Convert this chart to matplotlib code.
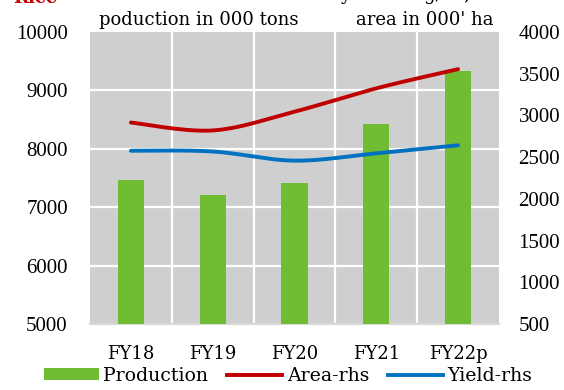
import numpy as np
import matplotlib
matplotlib.use("Agg")
import matplotlib.pyplot as plt
from matplotlib.lines import Line2D
from matplotlib.patches import Patch

plt.rcParams['font.family'] = ['DejaVu Serif']

years = ["FY18", "FY19", "FY20", "FY21", "FY22p"]
production = [7460, 7210, 7420, 8425, 9335]   # 000 tons (left axis)
area = [2915, 2820, 3045, 3325, 3555]          # 000' ha (right axis)
yld = [2577, 2568, 2458, 2546, 2642]           # kg/ha (right axis)

GREEN = "#70BC33"
RED = "#C00000"
BLUE = "#0070C0"
BG = "#D0CFD0"
FS = 13
NUM_FONT = dict(family='Liberation Serif', size=15)


def smooth(xs, ys, n=40, t=1 / 6):
    """Bezier smoothing through every point, as spreadsheet 'smoothed lines'."""
    xs = np.asarray(xs, float)
    ys = np.asarray(ys, float)
    px, py = [], []
    for i in range(len(xs) - 1):
        i0, i3 = max(i - 1, 0), min(i + 2, len(xs) - 1)
        p0 = np.array([xs[i], ys[i]])
        p3 = np.array([xs[i + 1], ys[i + 1]])
        c1 = p0 + t * (p3 - np.array([xs[i0], ys[i0]]))
        c2 = p3 - t * (np.array([xs[i3], ys[i3]]) - p0)
        s = np.linspace(0, 1, n)[:, None]
        seg = ((1 - s) ** 3) * p0 + 3 * ((1 - s) ** 2) * s * c1 + 3 * (1 - s) * s ** 2 * c2 + s ** 3 * p3
        px.extend(seg[:, 0])
        py.extend(seg[:, 1])
    return np.array(px), np.array(py)


fig = plt.figure(figsize=(5.64, 3.9), dpi=100)
ax = fig.add_axes([90 / 564, 66 / 390, 409 / 564, 292 / 390])
ax.set_facecolor(BG)
x = np.arange(len(years))

ax.bar(x, production, width=0.32, color=GREEN, zorder=3)
ax.set_ylim(5000, 10000)
ax.set_yticks(np.arange(5000, 10001, 1000))
ax.set_xlim(-0.5, len(years) - 0.5)
ax.set_xticks(x)
ax.set_xticklabels(years, fontsize=FS)

# gridlines: horizontal at every major tick, vertical between categories
for v in np.arange(6000, 10000, 1000):
    ax.axhline(v, color="white", lw=1.6, zorder=1)
for b in np.arange(0.5, len(years) - 1, 1):
    ax.axvline(b, color="white", lw=1.6, zorder=1)

for s in ax.spines.values():
    s.set_visible(False)
ax.spines['bottom'].set_visible(True)
ax.spines['bottom'].set_color("#D9D9D9")
ax.spines['bottom'].set_linewidth(1.5)
ax.tick_params(axis='both', length=0)
ax.tick_params(axis='x', pad=15)
ax.tick_params(axis='y', pad=16)
for lab in ax.get_yticklabels():
    lab.set_fontproperties(NUM_FONT)

ax2 = ax.twinx()
ax2.set_ylim(500, 4000)
ax2.set_yticks(np.arange(500, 4001, 500))
for s in ax2.spines.values():
    s.set_visible(False)
ax2.tick_params(axis='y', length=0, pad=14)
for lab in ax2.get_yticklabels():
    lab.set_fontproperties(NUM_FONT)

sx, sy = smooth(x, area)
ax2.plot(sx, sy, color=RED, lw=2.8, solid_capstyle='round', zorder=4)
sx, sy = smooth(x, yld)
ax2.plot(sx, sy, color=BLUE, lw=2.8, solid_capstyle='round', zorder=4)

fig.text(99 / 564, 1 - 20 / 390, "poduction in 000 tons", fontsize=FS, va='center', ha='left')
fig.text(356 / 564, 1 - 20 / 390, "area in 000' ha", fontsize=FS, va='center', ha='left')
fig.text(13 / 564, 1 - 3 / 390, "Rice", fontsize=FS, color=RED, fontweight='bold', va='baseline')
fig.text(340 / 564, 1.0, "yield in kg/ha,", fontsize=FS, va='baseline')

handles = [Patch(facecolor=GREEN, edgecolor='none'),
           Line2D([], [], color=RED, lw=2.8),
           Line2D([], [], color=BLUE, lw=2.8)]
fig.legend(handles, ["Production", "Area-rhs", "Yield-rhs"], loc='center',
           bbox_to_anchor=(288 / 564, 1 - 376 / 390), ncol=3, frameon=False,
           fontsize=13.6, handlelength=2.9, handleheight=0.6, handletextpad=0.25,
           columnspacing=1.0, borderpad=0, borderaxespad=0)

fig.savefig("out.png", dpi=100)
